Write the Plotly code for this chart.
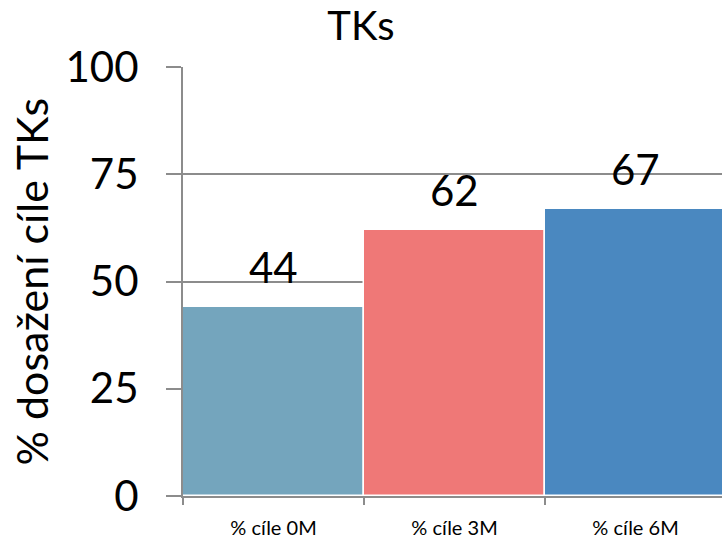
import plotly.graph_objects as go

categories = ["% cíle 0M", "% cíle 3M", "% cíle 6M"]
values = [44, 62, 67]
bar_colors = ["#74A5BD", "#EF7877", "#4A88C0"]
y_ticks = [0, 25, 50, 75, 100]

FONT = "Lato, Open Sans, sans-serif"
GRID = "#8C8C8C"
BIG = 42

fig = go.Figure(
    go.Bar(
        x=categories,
        y=values,
        marker=dict(color=bar_colors, line=dict(color="white", width=1.5)),
        hoverinfo="skip",
    )
)

# value labels above each bar
for c, v in zip(categories, values):
    fig.add_annotation(
        x=c, y=v, text=str(v), showarrow=False,
        yanchor="bottom", yshift=13,
        font=dict(family=FONT, size=BIG, color="black"),
    )

# rotated axis title
fig.add_annotation(
    x=0, xref="paper", y=0.5, yref="paper",
    text="% dosažení cíle TKs", textangle=-90, showarrow=False,
    xanchor="center", yanchor="middle", xshift=-152,
    font=dict(family=FONT, size=43, color="black"),
)

fig.update_layout(
    width=722, height=539,
    margin=dict(l=183, r=0, t=67, b=41),
    paper_bgcolor="white", plot_bgcolor="white",
    bargap=0,
    showlegend=False,
    title=dict(
        text="TKs", x=0.5, xref="container", xanchor="center",
        y=1 - 26 / 539, yref="container", yanchor="middle",
        font=dict(family=FONT, size=40, color="black"),
    ),
    xaxis=dict(
        range=[-0.5, 2.478],
        showline=True, linecolor=GRID, linewidth=2,
        ticks="outside", tickson="boundaries", ticklen=7, tickwidth=2, tickcolor=GRID,
        tickfont=dict(family=FONT, size=20, color="black"),
        ticklabelstandoff=13,
        showgrid=False,
    ),
    yaxis=dict(
        range=[0, 100],
        tickvals=y_ticks,
        showline=True, linecolor=GRID, linewidth=2,
        ticks="outside", ticklen=15, tickwidth=2, tickcolor=GRID,
        showgrid=True, gridcolor=GRID, gridwidth=2,
        zeroline=False,
        tickfont=dict(family=FONT, size=BIG, color="black"),
        ticklabelstandoff=19,
    ),
)

fig.write_html("out.html")
